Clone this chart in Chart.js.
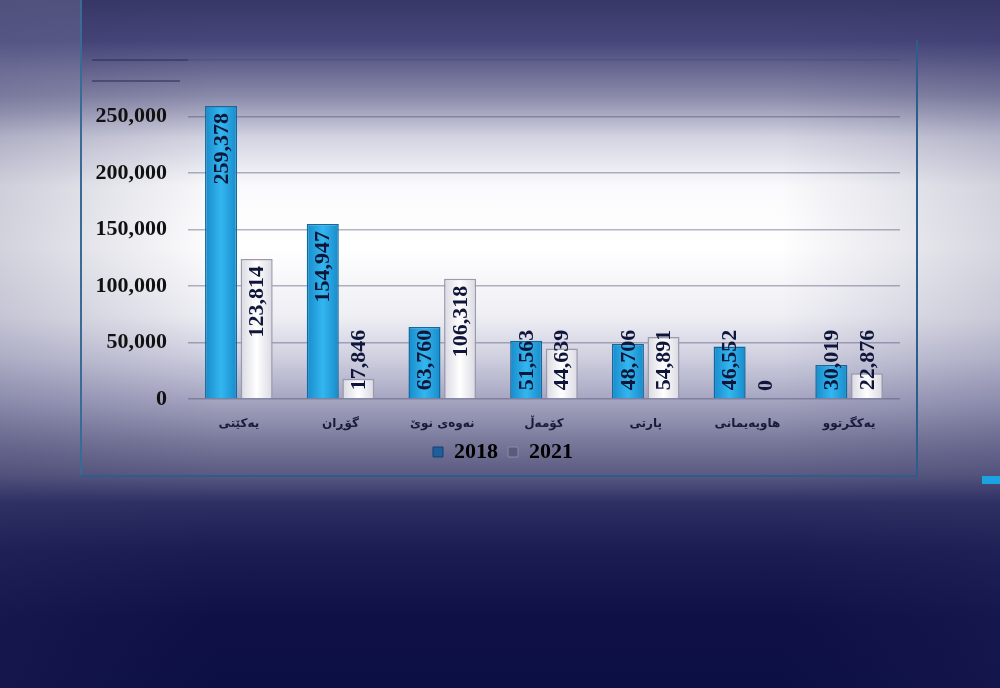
<!DOCTYPE html>
<html>
<head>
<meta charset="utf-8">
<script src="https://cdn.jsdelivr.net/npm/chart.js@4.4.0/dist/chart.umd.min.js"></script>
<style>
  html, body { margin: 0; padding: 0; }
  body {
    width: 1000px; height: 688px; overflow: hidden; position: relative;
    background:
      linear-gradient(to right, rgba(50,50,100,0.22) 0%, rgba(50,50,100,0) 22%, rgba(50,50,100,0) 78%, rgba(50,50,100,0.2) 100%),
      linear-gradient(to bottom, #383867 0%, #46467a 6%, #8a8aaa 14%, #d4d4e2 20%, #fafafc 27%, #ffffff 36%, #eeeef4 46%, #cfcfe0 52%, #a6a6c2 58%, #7a7a9c 64%, #5a5a82 69%, #2e3064 73%, #1a1c52 80%, #0e1046 90%, #0c0f44 100%);
  }
  .frame {
    position: absolute; left: 80px; top: 40px; width: 836px; height: 435px;
    border-right: 2px solid #2d5d8c; border-bottom: 2px solid #2d5d8c;
  }
  .vline { position: absolute; left: 80px; top: 0; width: 2px; height: 477px; background: #3a6a96; }
  .panel { position: absolute; left: 0; top: 0; width: 80px; height: 110px;
    background: linear-gradient(to bottom, rgba(200,200,225,0.18) 0%, rgba(200,200,225,0.12) 70%, rgba(200,200,225,0) 100%); }
  .seg { position: absolute; height: 1.5px; background: rgba(40,40,80,0.5); }
  .tab { position: absolute; left: 982px; top: 476px; width: 18px; height: 8px; background: #1aa3e2; }
  canvas { position: absolute; left: 0; top: 0; }
</style>
</head>
<body>
<div class="panel"></div>
<div class="vline"></div>
<div class="frame"></div>
<div class="seg" style="left:92px; top:59px; width:96px;"></div>
<div class="seg" style="left:92px; top:80px; width:88px;"></div>
<div class="tab"></div>
<canvas id="grafico" width="1000" height="473"></canvas>
<script>
const partidos = ['یەکێتی', 'گۆڕان', 'نەوەی نوێ', 'کۆمەڵ', 'پارتی', 'هاوپەیمانی', 'یەکگرتوو'];
const votos2018 = [259378, 154947, 63760, 51563, 48706, 46552, 30019];
const votos2021 = [123814, 17846, 106318, 44639, 54891, 0, 22876];
const anos = ['2018', '2021'];
const ticksY = [0, 50000, 100000, 150000, 200000, 250000, 300000];

const fonteSerif = '"Liberation Serif", "Times New Roman", serif';
const catPct = 0.7;

// gradiente horizontal em cada barra (efeito 3d do excel)
function corBarra(escuro, claro, solido) {
  return (c) => {
    const x = c.chart.scales && c.chart.scales.x;
    if (!x || x.right === undefined || c.dataIndex === undefined) return solido;
    const cat = (x.right - x.left) / partidos.length;
    const slot = cat * catPct / 2;
    const cx = x.getPixelForValue(c.dataIndex) + (c.datasetIndex - 0.5) * slot;
    const g = c.chart.ctx.createLinearGradient(cx - slot / 2, 0, cx + slot / 2, 0);
    g.addColorStop(0, escuro);
    g.addColorStop(0.5, claro);
    g.addColorStop(1, escuro);
    return g;
  };
}

const rotulos = {
  id: 'rotulos',
  afterLayout(chart) {
    // legenda centrada na largura do canvas
    const dx = chart.width / 2 + 3 - (chart.legend.left + chart.legend.right) / 2;
    chart.legend.left += dx;
    chart.legend.right += dx;
  },
  // rotulos verticais dentro das barras (estilo excel "inside end")
  afterDatasetsDraw(chart) {
    const ctx = chart.ctx;
    ctx.save();
    ctx.font = 'bold 22px ' + fonteSerif;
    ctx.fillStyle = '#10163a';
    ctx.textAlign = 'left';
    ctx.textBaseline = 'middle';
    chart.data.datasets.forEach((ds, i) => {
      const meta = chart.getDatasetMeta(i);
      meta.data.forEach((bar, j) => {
        const txt = ds.data[j].toLocaleString('en-US');
        const w = ctx.measureText(txt).width;
        let baixo = bar.y + 7 + w;
        if (baixo > bar.base - 8) baixo = bar.base - 8;
        ctx.save();
        ctx.translate(bar.x + 1, baixo);
        ctx.rotate(-Math.PI / 2);
        ctx.fillText(txt, 0, 0);
        ctx.restore();
      });
    });
    ctx.restore();
  }
};

const ctx = document.getElementById('grafico').getContext('2d');
const meuGrafico = new Chart(ctx, {
  type: 'bar',
  data: {
    labels: partidos,
    datasets: [{
      label: anos[0],
      data: votos2018,
      backgroundColor: corBarra('#1487c6', '#33b6ef', '#1fa3dd'),
      borderColor: '#0e6aa0',
      borderWidth: 1.5
    }, {
      label: anos[1],
      data: votos2021,
      backgroundColor: corBarra('#d4d4de', '#ffffff', '#f2f2f6'),
      borderColor: '#9a9aac',
      borderWidth: 1.5
    }]
  },
  options: {
    responsive: false,
    animation: false,
    layout: { padding: { left: 0, right: 100, top: 60, bottom: 0 } },
    datasets: { bar: { categoryPercentage: catPct, barPercentage: 0.9 } },
    plugins: {
      legend: {
        position: 'bottom',
        labels: {
          boxWidth: 10,
          boxHeight: 10,
          padding: 10,
          color: '#0d0d30',
          font: { family: fonteSerif, size: 22, weight: 'bold' },
          generateLabels: (chart) => [
            { text: anos[0], fillStyle: '#1d5e9c', strokeStyle: '#163f70', lineWidth: 1, datasetIndex: 0 },
            { text: anos[1], fillStyle: '#5a5a7e', strokeStyle: '#8a8aa4', lineWidth: 1, datasetIndex: 1 }
          ]
        }
      },
      tooltip: { enabled: false }
    },
    scales: {
      x: {
        grid: { display: false },
        border: { display: false },
        ticks: {
          padding: 10,
          color: '#1a1a3a',
          font: { family: '"DejaVu Sans", sans-serif', size: 12, weight: 'bold' }
        },
        afterFit: (scale) => { scale.height = 32; }
      },
      y: {
        min: 0,
        max: 300000,
        border: { display: false },
        grid: { color: 'rgba(70,70,110,0.4)', lineWidth: 1.5, drawTicks: false },
        afterBuildTicks: (scale) => { scale.ticks = ticksY.map(v => ({ value: v })); },
        ticks: {
          padding: 21,
          color: '#111111',
          font: { family: fonteSerif, size: 22, weight: 'bold' },
          callback: (v) => v === 300000 ? '' : v.toLocaleString('en-US')
        },
        afterFit: (scale) => { scale.width = 188; }
      }
    }
  },
  plugins: [rotulos]
});
</script>
</body>
</html>
